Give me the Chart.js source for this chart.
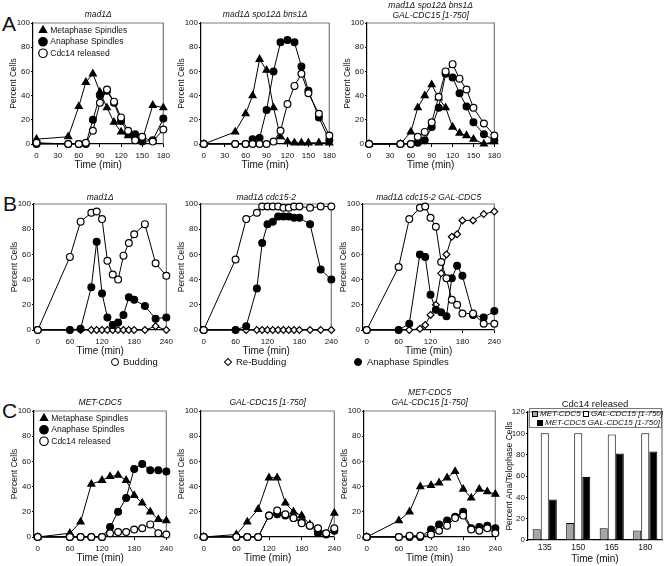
<!DOCTYPE html>
<html>
<head>
<meta charset="utf-8">
<script src="https://cdn.jsdelivr.net/npm/chart.js@4.4.0/dist/chart.umd.min.js"></script>
<style>
  body { margin: 0; width: 664px; height: 566px; background: #fff; position: relative; overflow: hidden;
         font-family: "Liberation Sans", Arial, sans-serif; color: #111; }
  canvas { position: absolute; }
  .letter { position: absolute; font-size: 21px; line-height: 21px; }
  .txt { position: absolute; white-space: nowrap; }
  .sym { position: absolute; box-sizing: border-box; border: 1.3px solid #000; }
</style>
</head>
<body>
<div class="letter" style="left:2px;top:13px">A</div>
<div class="letter" style="left:3px;top:193px">B</div>
<div class="letter" style="left:2px;top:400px">C</div>

<canvas id="a1"></canvas><canvas id="a2"></canvas><canvas id="a3"></canvas>
<canvas id="b1"></canvas><canvas id="b2"></canvas><canvas id="b3"></canvas>
<canvas id="c1"></canvas><canvas id="c2"></canvas><canvas id="c3"></canvas>
<canvas id="c4"></canvas>

<!-- shared key for row B -->
<div class="sym" style="left:111px;top:358px;width:8px;height:8px;border-radius:50%;background:#fff"></div>
<div class="txt" style="left:123px;top:356px;font-size:9.5px;line-height:12px">Budding</div>
<div class="sym" style="left:225px;top:359px;width:6px;height:6px;transform:rotate(45deg);background:#fff;border-width:1px"></div>
<div class="txt" style="left:236px;top:356px;font-size:9.5px;line-height:12px">Re-Budding</div>
<div class="sym" style="left:354px;top:358px;width:8px;height:8px;border-radius:50%;background:#000"></div>
<div class="txt" style="left:367px;top:356px;font-size:9.5px;line-height:12px">Anaphase Spindles</div>

<!-- key for the bar panel -->
<div class="sym" style="left:529px;top:408px;width:133px;height:20px;border:1px solid #777"></div>
<div class="sym" style="left:532px;top:411px;width:6px;height:6px;border-width:1px;background:#a6a6a6"></div>
<div class="txt" style="left:540px;top:409px;font-size:8px;line-height:10px;font-style:italic">MET-CDC5</div>
<div class="sym" style="left:583px;top:411px;width:6px;height:6px;border-width:1px;background:#fff"></div>
<div class="txt" style="left:591px;top:409px;font-size:8px;line-height:10px;font-style:italic">GAL-CDC15 [1-750]</div>
<div class="sym" style="left:537px;top:420px;width:6px;height:6px;border-width:1px;background:#000"></div>
<div class="txt" style="left:545px;top:418px;font-size:8px;line-height:10px;font-style:italic">MET-CDC5 GAL-CDC15 [1-750]</div>

<script>
// ---- tick labels ----
const pctTicks = [0, 20, 40, 60, 80, 100];
const ticks180 = [0, 30, 60, 90, 120, 150, 180];
const ticks240 = [0, 60, 120, 180, 240];
const barTicks = [0, 20, 40, 60, 80, 100, 120];

// ---- A: spindles / Cdc14 release (0-180 min) ----
const timesA = [0, 45, 60, 70, 80, 90, 100, 110, 120, 130, 140, 150, 165, 180];
const a1Meta = [4, 6, 31, 51, 58, 43, 30, 18, 10, 7, 6, 3, 32, 30];
const a1Ana  = [0, 0, 0, 0, 20, 40, 44, 34, 19, 9, 8, 2, 3, 21];
const a1Cdc  = [1, 0, 0, 1, 11, 34, 45, 35, 22, 11, 3, 6, 2, 12];

const a2Meta = [0, 10, 25, 40, 70, 61, 30, 6, 2, 1, 1, 1, 1, 1];
const a2Ana  = [0, 0, 0, 4, 5, 28, 60, 84, 86, 84, 64, 44, 22, 3];
const a2Cdc  = [0, 0, 0, 0, 0, 0, 2, 11, 33, 48, 58, 42, 25, 7];

const a3Meta = [0, 0, 10, 30, 40, 49, 38, 30, 14, 9, 7, 4, 0, 2];
const a3Ana  = [0, 0, 0, 1, 3, 14, 30, 58, 55, 42, 31, 18, 8, 3];
const a3Cdc  = [0, 0, 0, 6, 10, 18, 39, 60, 66, 54, 45, 30, 17, 7];

// ---- B: budding (0-240 min) ----
const timesB = [0, 60, 80, 100, 110, 120, 130, 140, 150, 160, 170, 180, 200, 220, 240];
const b1Bud   = [0, 58, 86, 93, 94, 88, 55, 44, 40, 59, 69, 76, 84, 53, 43];
const b1Rebud = [0, 0, 0, 0, 0, 0, 0, 0, 0, 0, 0, 0, 0, 3, 0];
const b1Ana   = [0, 0, 1, 34, 70, 29, 10, 4, 6, 12, 26, 24, 19, 9, 10];

const b2Bud   = [0, 56, 88, 93, 98, 98, 98, 98, 97, 97, 98, 98, 97, 98, 98];
const b2Rebud = [0, 0, 0, 0, 0, 0, 0, 0, 0, 0, 0, 0, 0, 0, 0];
const b2Ana   = [0, 0, 3, 33, 69, 84, 86, 90, 90, 90, 89, 89, 84, 48, 40];

const b3Bud   = [0, 50, 88, 97, 98, 89, 82, 54, 41, 24, 20, 13, 13, 5, 5];
const b3Rebud = [0, 0, 0, 1, 4, 12, 20, 45, 60, 74, 76, 87, 87, 92, 94];
const b3Ana   = [0, 0, 5, 60, 58, 28, 16, 14, 11, 41, 51, 43, 12, 10, 15];

// ---- C: MET-CDC5 / GAL-CDC15 (0-240 min) ----
const timesC = [0, 60, 80, 100, 120, 135, 150, 165, 180, 195, 210, 225, 240];
const c1Meta = [0, 3, 12, 42, 45, 48, 49, 45, 33, 27, 20, 14, 13];
const c1Ana  = [0, 0, 0, 0, 0, 8, 20, 31, 54, 58, 53, 53, 52];
const c1Cdc  = [0, 0, 0, 0, 0, 3, 4, 4, 6, 7, 10, 3, 2];

const c2Meta = [0, 2, 12, 22, 47, 47, 27, 20, 17, 10, 6, 2, 19];
const c2Ana  = [0, 0, 0, 0, 17, 18, 17, 15, 12, 9, 3, 2, 5];
const c2Cdc  = [0, 0, 0, 0, 17, 21, 18, 15, 11, 9, 7, 3, 7];

const c3Meta = [0, 13, 20, 40, 41, 43, 47, 52, 38, 31, 38, 36, 34];
const c3Ana  = [0, 0, 0, 0, 6, 10, 13, 16, 20, 7, 8, 9, 7];
const c3Cdc  = [0, 0, 1, 1, 2, 5, 9, 15, 17, 6, 5, 7, 3];

// ---- C bar panel: Cdc14 released ----
const barTimes = ['135', '150', '165', '180'];
const barMet   = [10, 16, 11, 9];
const barGal   = [100, 100, 99, 100];
const barBoth  = [38, 59, 81, 83];

Chart.defaults.font.family = '"Liberation Sans", Arial, sans-serif';
Chart.defaults.color = '#111';

const YW = 30, XH = 28, PR = 8;

// grey top/right border round the plot
const frame = {
  id: 'frame',
  beforeDatasetsDraw(chart) {
    const a = chart.chartArea, c = chart.ctx;
    c.save();
    c.strokeStyle = '#7a7a7a';
    c.lineWidth = 1.2;
    c.beginPath();
    c.moveTo(a.left, a.top);
    c.lineTo(a.right, a.top);
    c.lineTo(a.right, a.bottom);
    c.stroke();
    c.restore();
  }
};

// a vertical legend on 'chartArea' gets its top reset to 0, put it back inside the plot
const legendInside = {
  id: 'legendInside',
  afterLayout(chart) {
    const L = chart.legend;
    if (!L || !chart.options.plugins.legend.display) return;
    const a = chart.chartArea;
    const h = L.bottom - L.top;
    L.top = a.top; L.bottom = a.top + h;
    L.left = a.left + 4;
  }
};

function sizeCanvas(id, l, t, r, b, top, pr, xh) {
  const cv = document.getElementById(id);
  const w = r - l + YW + pr, h = b - t + top + xh;
  cv.width = w; cv.height = h;
  cv.style.left = (l - YW) + 'px';
  cv.style.top = (t - top) + 'px';
  cv.style.width = w + 'px';
  cv.style.height = h + 'px';
  return cv;
}

function titlePad(lines, gap, top, size) {
  const lh = size * 1.25;
  const pt = Math.max(0, top - gap - lh / 2 - (lines - 1) * lh);
  return { top: pt, bottom: Math.max(0, top - pt - lines * lh) };
}

const TRI  = { shape: 'triangle', fill: '#000', r: 4 };
const DOT  = { shape: 'circle', fill: '#000', r: 3.4 };
const OPEN = { shape: 'circle', fill: '#fff', r: 3.4 };
const DIA  = { shape: 'rectRot', fill: '#fff', r: 3.4 };

function series(label, times, vals, st, order) {
  return {
    label, order, clip: false,
    data: times.map((t, i) => ({ x: t, y: vals[i] })),
    borderColor: '#000', borderWidth: 1, backgroundColor: st.fill,
    pointStyle: st.shape, pointRadius: st.r, pointBorderWidth: 1.2,
    pointBackgroundColor: st.fill, pointBorderColor: '#000', tension: 0
  };
}

function lineChart(id, box, top, title, gap, xmin, xmax, xTicks, sets, withLegend) {
  const [l, t, r, b] = box;
  const cv = sizeCanvas(id, l, t, r, b, top, PR, XH);
  const lines = Array.isArray(title) ? title.length : 1;
  new Chart(cv, {
    type: 'line',
    data: { datasets: sets },
    options: {
      responsive: false, animation: false, devicePixelRatio: 1,
      layout: { padding: { left: 0, top: 0, right: PR, bottom: 0 } },
      plugins: {
        tooltip: { enabled: false },
        title: {
          display: true, text: title, fullSize: false, color: '#111',
          font: { size: 8.5, style: 'italic', weight: 'normal', lineHeight: 1.25 },
          padding: titlePad(lines, gap, top, 8.5)
        },
        legend: withLegend ? {
          display: true, position: 'chartArea', align: 'start',
          labels: {
            usePointStyle: true, boxWidth: 6, boxHeight: 6, padding: 3,
            font: { size: 8.5 }, color: '#111',
            sort: (a, b2) => a.datasetIndex - b2.datasetIndex
          }
        } : { display: false }
      },
      scales: {
        x: {
          type: 'linear', min: xmin, max: xmax,
          afterBuildTicks: s => { s.ticks = xTicks.map(v => ({ value: v })); },
          afterFit: s => { s.height = XH; },
          grid: { drawOnChartArea: false, drawTicks: true, tickLength: 3, color: '#000' },
          border: { color: '#000', width: 1.2 },
          ticks: { font: { size: 8 }, padding: 4, maxRotation: 0, autoSkip: false, color: '#111' },
          title: { display: true, text: 'Time (min)', font: { size: 10 }, padding: { top: 0, bottom: 1 }, color: '#111' }
        },
        y: {
          min: 0, max: 100,
          afterBuildTicks: s => { s.ticks = pctTicks.map(v => ({ value: v })); },
          afterFit: s => { s.width = YW; },
          grid: { drawOnChartArea: false, drawTicks: true, tickLength: 2, color: '#000' },
          border: { color: '#000', width: 1.2 },
          ticks: { font: { size: 8 }, padding: 1, color: '#111' },
          title: { display: true, text: 'Percent Cells', font: { size: 8.5 }, padding: { top: 6, bottom: 0 }, color: '#111' }
        }
      }
    },
    plugins: [frame, legendInside]
  });
}

function spindleSets(times, meta, ana, cdc) {
  return [
    series('Metaphase Spindles', times, meta, TRI, 2),
    series('Anaphase Spindles', times, ana, DOT, 1),
    series('Cdc14 released', times, cdc, OPEN, 0)
  ];
}
function buddingSets(times, bud, rebud, ana) {
  return [
    series('Budding', times, bud, OPEN, 0),
    series('Re-Budding', times, rebud, DIA, 2),
    series('Anaphase Spindles', times, ana, DOT, 1)
  ];
}

// row A
lineChart('a1', [33, 23, 166, 144], 23, 'mad1Δ', 8, -5, 180, ticks180, spindleSets(timesA, a1Meta, a1Ana, a1Cdc), true);
lineChart('a2', [201, 23, 332, 144], 23, 'mad1Δ spo12Δ bns1Δ', 8, -4, 180, ticks180, spindleSets(timesA, a2Meta, a2Ana, a2Cdc), false);
lineChart('a3', [367, 23, 497, 144], 23, ['mad1Δ spo12Δ bns1Δ', 'GAL-CDC15 [1-750]'], 7, -3, 180, ticks180, spindleSets(timesA, a3Meta, a3Ana, a3Cdc), false);

// row B
lineChart('b1', [34, 204, 169, 330], 26, 'mad1Δ', 6, -7, 240, ticks240, buddingSets(timesB, b1Bud, b1Rebud, b1Ana), false);
lineChart('b2', [201, 204, 334, 330], 26, 'mad1Δ cdc15-2', 6, -5, 240, ticks240, buddingSets(timesB, b2Bud, b2Rebud, b2Ana), false);
lineChart('b3', [363, 204, 497, 330], 26, 'mad1Δ cdc15-2 GAL-CDC5', 6, -7, 240, ticks240, buddingSets(timesB, b3Bud, b3Rebud, b3Ana), false);

// row C
lineChart('c1', [34, 411, 169, 537], 26, 'MET-CDC5', 8, -7, 240, ticks240, spindleSets(timesC, c1Meta, c1Ana, c1Cdc), true);
lineChart('c2', [201, 411, 337, 537], 26, 'GAL-CDC15 [1-750]', 8, -5, 240, ticks240, spindleSets(timesC, c2Meta, c2Ana, c2Cdc), false);
lineChart('c3', [364, 411, 498, 537], 26, ['MET-CDC5', 'GAL-CDC15 [1-750]'], 8, -5, 240, ticks240, spindleSets(timesC, c3Meta, c3Ana, c3Cdc), false);

// bar panel
(function () {
  const l = 528, t = 412, r = 662, b = 540, top = 26, pr = 2, xh = 26;
  const cv = sizeCanvas('c4', l, t, r, b, top, pr, xh);
  const bar = (label, vals, fill) => ({
    label, data: vals, backgroundColor: fill, borderColor: '#000', borderWidth: 1,
    barPercentage: 1, categoryPercentage: 0.72
  });
  new Chart(cv, {
    type: 'bar',
    data: {
      labels: barTimes,
      datasets: [
        bar('MET-CDC5', barMet, '#a6a6a6'),
        bar('GAL-CDC15 [1-750]', barGal, '#fff'),
        bar('MET-CDC5 GAL-CDC15 [1-750]', barBoth, '#000')
      ]
    },
    options: {
      responsive: false, animation: false, devicePixelRatio: 1,
      layout: { padding: { left: 0, top: 0, right: pr, bottom: 0 } },
      plugins: {
        tooltip: { enabled: false },
        legend: { display: false },
        title: {
          display: true, text: 'Cdc14 released', fullSize: false, color: '#111',
          font: { size: 9.5, weight: 'normal', lineHeight: 1.25 },
          padding: titlePad(1, 8, top, 9.5)
        }
      },
      scales: {
        x: {
          afterFit: s => { s.height = xh; },
          grid: { drawOnChartArea: false, drawTicks: false },
          border: { color: '#000', width: 1.2 },
          ticks: { font: { size: 8.5 }, padding: 3, color: '#111' },
          title: { display: true, text: 'Time (min)', font: { size: 10 }, padding: { top: 0, bottom: 1 }, color: '#111' }
        },
        y: {
          min: 0, max: 120,
          afterBuildTicks: s => { s.ticks = barTicks.map(v => ({ value: v })); },
          afterFit: s => { s.width = YW; },
          grid: { drawOnChartArea: false, drawTicks: true, tickLength: 2, color: '#000' },
          border: { color: '#000', width: 1.2 },
          ticks: { font: { size: 8 }, padding: 1, color: '#111' },
          title: { display: true, text: 'Percent Ana/Telophase Cells', font: { size: 8.5 }, padding: { top: 7, bottom: 0 }, color: '#111' }
        }
      }
    },
    plugins: [frame]
  });
})();
</script>
</body>
</html>
